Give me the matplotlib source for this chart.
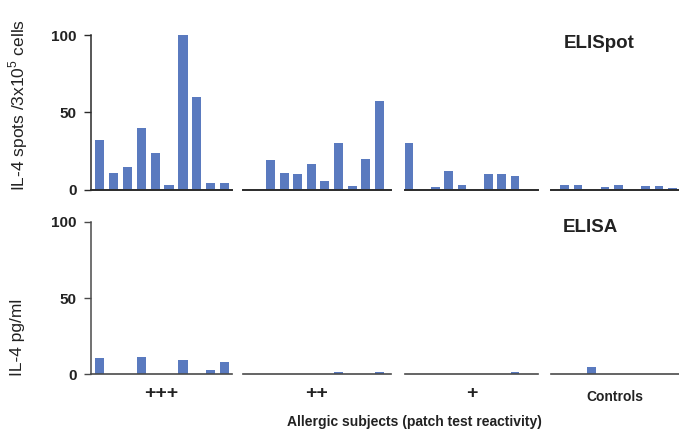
import numpy as np
import matplotlib
matplotlib.use("Agg")
import matplotlib.pyplot as plt

plt.rcParams['font.family'] = ['Liberation Sans', 'DejaVu Sans']
plt.rcParams['mathtext.fontset'] = 'custom'
plt.rcParams['mathtext.rm'] = 'Liberation Sans'

# ---------------- data ----------------
groups = ["+++", "++", "+", "Controls"]

elispot_ppp = [32, 10.5, 14.5, 40, 23.5, 3, 100, 60, 4, 4.5]
elispot_pp = [0, 19, 10.5, 10, 16.5, 5.5, 30, 2, 19.5, 57.5]
elispot_p = [30, 0, 1.5, 12, 3, 0, 10, 10, 8.5]
elispot_ctrl = [3, 3, 0, 1.5, 3, 0, 2.5, 2.5, 1]

elisa_ppp = [10.5, 0, 0, 11.5, 0, 0, 9.5, 0, 2.5, 8]
elisa_pp = [0, 0, 0, 0, 0, 0, 1.5, 0, 0, 1.5]
elisa_p = [0, 0, 0, 0, 0, 0, 0, 0, 1.5]
elisa_ctrl = [0, 0, 4.8, 0, 0, 0, 0, 0, 0]

yticks = [0, 50, 100]
panel_titles = ["ELISpot", "ELISA"]
ylabels = ["IL-4 spots /3x10$^{5}$ cells", "IL-4 pg/ml"]
xlabel = "Allergic subjects (patch test reactivity)"

rows = [[elispot_ppp, elispot_pp, elispot_p, elispot_ctrl],
        [elisa_ppp, elisa_pp, elisa_p, elisa_ctrl]]

# ---------------- layout ----------------
W, H = 679, 430
fig = plt.figure(figsize=(W / 100, H / 100), dpi=100)

# pixel extents of each group's baseline
gx = [(90.5, 232), (243, 391), (405, 538), (551, 679)]
# xlims in slot units
gxlim = [(-0.65, 9.53), (-1.02, 9.86), (-0.3, 9.74), (-1.0, 8.48)]
# row pixel extents (y of 100, y of 0)
ry = [(35.2, 189.5), (221.7, 374.3)]

bar_color = '#5a7abf'
spine_col = ['#2a2a2a', '#4a4a4a']
spine_lw = [1.4, 1.2]

for r in range(2):
    ytop, ybot = ry[r]
    for g in range(4):
        x0, x1 = gx[g]
        ax = fig.add_axes([x0 / W, (H - ybot) / H, (x1 - x0) / W, (ybot - ytop) / H])
        vals = rows[r][g]
        xs = np.arange(len(vals))
        ax.bar(xs, vals, width=0.66, color=bar_color, linewidth=0, clip_on=False)
        ax.set_xlim(*gxlim[g])
        ax.set_ylim(0, 100)
        ax.patch.set_alpha(0)
        for s in ['top', 'right']:
            ax.spines[s].set_visible(False)
        ax.spines['bottom'].set_color(spine_col[r])
        ax.spines['bottom'].set_linewidth(spine_lw[r])
        if g == 0:
            ax.spines['left'].set_color(spine_col[r])
            ax.spines['left'].set_linewidth(1.1)
            ax.set_yticks(yticks)
            ax.set_yticklabels([str(t) for t in yticks], fontsize=11, fontweight='bold',
                               color='#222222')
            ax.tick_params(axis='y', length=5, width=1.0, color=spine_col[r], pad=5)
        else:
            ax.spines['left'].set_visible(False)
            ax.set_yticks([])
        if r == 1:
            mid = (gxlim[g][0] + gxlim[g][1]) / 2
            ax.set_xticks([mid])
            if groups[g] == "Controls":
                ax.set_xticklabels([groups[g]], fontsize=10, fontweight='bold', color='#222222')
                ax.tick_params(axis='x', length=0, pad=11)
            else:
                ax.set_xticklabels([groups[g]], fontsize=14, fontweight='bold', color='#222222')
                ax.tick_params(axis='x', length=0, pad=8)
        else:
            ax.set_xticks([])

# panel titles
fig.text(599.5 / W, 1 - 43 / H, panel_titles[0], fontsize=13.5, fontweight='bold',
         ha='center', va='center', color='#222222')
fig.text(590 / W, 1 - 228 / H, panel_titles[1], fontsize=13.5, fontweight='bold',
         ha='center', va='center', color='#222222')

# y labels
fig.text(18 / W, 1 - 105 / H, ylabels[0], fontsize=12.5, rotation=90,
         ha='center', va='center', color='#222222')
fig.text(18 / W, 1 - 337 / H, ylabels[1], fontsize=12.5, rotation=90,
         ha='center', va='center', color='#222222')

# x label
fig.text(414 / W, 1 - 422 / H, xlabel, fontsize=10, fontweight='bold',
         ha='center', va='center', color='#222222')

fig.savefig("out.png", dpi=100)
